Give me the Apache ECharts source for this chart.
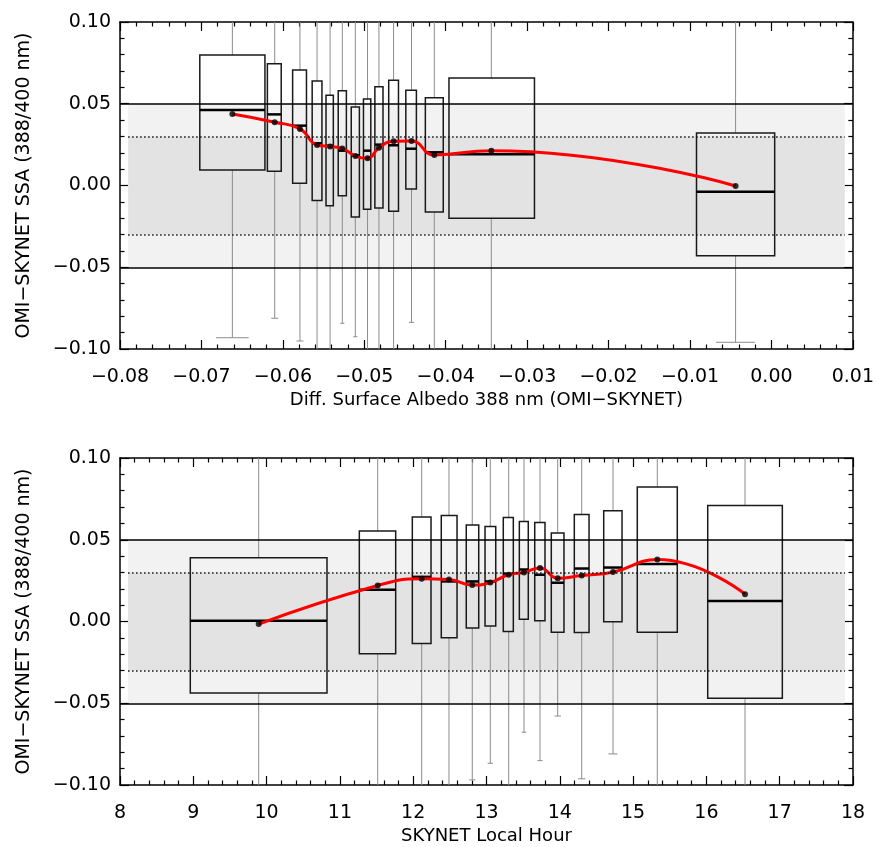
<!DOCTYPE html>
<html>
<head>
<meta charset="utf-8">
<script src="https://cdn.jsdelivr.net/npm/echarts@6/dist/echarts.min.js"></script>
<style>
    html, body { margin: 0; padding: 0; background: #fff; }
    #chart { width: 877px; height: 847px; }
</style>
</head>
<body>
<div id="chart"></div>
<script>
// top panel: binned by albedo difference
const albX       = [-0.0662, -0.0610, -0.0579, -0.0558, -0.0542, -0.0527, -0.0511, -0.0496, -0.0482, -0.0464, -0.0442, -0.0414, -0.0344, -0.0044]
const albBoxLo   = [-0.0702, -0.0619, -0.0588, -0.0564, -0.0547, -0.0532, -0.0516, -0.0501, -0.0487, -0.0470, -0.0449, -0.0425, -0.0396, -0.0092]
const albBoxHi   = [-0.0622, -0.0602, -0.0571, -0.0552, -0.0538, -0.0522, -0.0506, -0.0492, -0.0477, -0.0458, -0.0436, -0.0403, -0.0291,  0.0004]
const albWhiskLo = [-0.0931, -0.0812, -0.0951, -0.12, -0.12, -0.0843, -0.0925, -0.12, -0.12, -0.12, -0.0837, -0.12, -0.12, -0.0959]
const albQ1      = [ 0.0095,  0.0087,  0.0013, -0.0091, -0.0124, -0.0062, -0.0193, -0.0146, -0.0138, -0.0158, -0.0021, -0.0162, -0.0201, -0.0429]
const albMedian  = [ 0.0462,  0.0435,  0.0366,  0.0258,  0.0243,  0.0213,  0.0185,  0.0213,  0.0250,  0.0246,  0.0225,  0.0203,  0.0191, -0.0038]
const albQ3      = [ 0.0798,  0.0745,  0.0706,  0.0639,  0.0552,  0.0580,  0.0480,  0.0529,  0.0604,  0.0643,  0.0582,  0.0537,  0.0657,  0.0321]
const albWhiskHi = [ 0.12, 0.12, 0.12, 0.12, 0.12, 0.12, 0.12, 0.12, 0.12, 0.12, 0.12, 0.12, 0.12, 0.12]
const albMean    = [ 0.0437,  0.0387,  0.0346,  0.0248,  0.0238,  0.0227,  0.0180,  0.0166,  0.0231,  0.0270,  0.0272,  0.0187,  0.0213, -0.0003]

// bottom panel: binned by local hour
const hourX       = [9.892, 11.516, 12.116, 12.488, 12.806, 13.052, 13.303, 13.512, 13.730, 13.971, 14.299, 14.726, 15.330, 16.527]
const hourBoxLo   = [8.959, 11.265, 11.988, 12.383, 12.724, 12.980, 13.229, 13.448, 13.658, 13.884, 14.198, 14.599, 15.057, 16.018]
const hourBoxHi   = [10.824, 11.761, 12.243, 12.598, 12.894, 13.126, 13.366, 13.570, 13.798, 14.057, 14.399, 14.849, 15.603, 17.036]
const hourWhiskLo = [-0.12, -0.12, -0.12, -0.12, -0.0969, -0.0867, -0.12, -0.0677, -0.0851, -0.0578, -0.0962, -0.0810, -0.12, -0.12]
const hourQ1      = [-0.0437, -0.0198, -0.0135, -0.0100, -0.0039, -0.0027, -0.0061,  0.0014,  0.0004, -0.0065, -0.0068, -0.0002, -0.0065, -0.0469]
const hourMedian  = [ 0.0004,  0.0194,  0.0273,  0.0245,  0.0245,  0.0245,  0.0292,  0.0318,  0.0286,  0.0237,  0.0324,  0.0330,  0.0351,  0.0125]
const hourQ3      = [ 0.0390,  0.0553,  0.0639,  0.0649,  0.0590,  0.0581,  0.0636,  0.0612,  0.0606,  0.0541,  0.0655,  0.0677,  0.0822,  0.0710]
const hourWhiskHi = [ 0.12, 0.12, 0.12, 0.12, 0.12, 0.12, 0.12, 0.12, 0.12, 0.12, 0.12, 0.12, 0.12, 0.12]
const hourMean    = [-0.0016,  0.0220,  0.0261,  0.0257,  0.0223,  0.0238,  0.0286,  0.0300,  0.0327,  0.0265,  0.0281,  0.0302,  0.0379,  0.0167]

// reference bands
const outerBand = [-0.05, 0.05]
const innerBand = [-0.03, 0.03]
const albBandX  = [-0.079, 0.009]
const hourBandX = [8.11, 17.89]

const Y_MIN = -0.1
const Y_MAX = 0.1
const FONT = 'DejaVu Sans'

const minus = (s) => s.replace('-', '\u2212')

const renderBox = (params, api) => {
    const x = api.value(0)
    const lo = api.value(1)
    const hi = api.value(2)
    const wLo = api.value(3)
    const q1 = api.value(4)
    const med = api.value(5)
    const q3 = api.value(6)
    const wHi = api.value(7)

    const clampY = (v) => Math.max(Y_MIN, Math.min(Y_MAX, v))
    const pt = (xv, yv) => api.coord([xv, yv])

    const left = pt(lo, q1)[0]
    const right = pt(hi, q1)[0]
    const cx = pt(x, q1)[0]
    const yQ1 = pt(x, q1)[1]
    const yQ3 = pt(x, q3)[1]
    const yMed = pt(x, med)[1]
    const yLo = pt(x, clampY(wLo))[1]
    const yHi = pt(x, clampY(wHi))[1]
    const capHalf = (right - left) / 4

    const grey = { stroke: '#8c8c8c', lineWidth: 1 }
    const children = [
        { type: 'line', shape: { x1: cx, y1: yQ1, x2: cx, y2: yLo }, style: grey },
        { type: 'line', shape: { x1: cx, y1: yQ3, x2: cx, y2: yHi }, style: grey },
        {
            type: 'rect',
            shape: { x: left, y: yQ3, width: right - left, height: yQ1 - yQ3 },
            style: { fill: null, stroke: '#1a1a1a', lineWidth: 1.5 }
        },
        {
            type: 'line',
            shape: { x1: left, y1: yMed, x2: right, y2: yMed },
            style: { stroke: '#000', lineWidth: 2.5 }
        }
    ]
    if (wLo >= Y_MIN) {
        children.push({ type: 'line', shape: { x1: cx - capHalf, y1: yLo, x2: cx + capHalf, y2: yLo }, style: grey })
    }
    if (wHi <= Y_MAX) {
        children.push({ type: 'line', shape: { x1: cx - capHalf, y1: yHi, x2: cx + capHalf, y2: yHi }, style: grey })
    }
    return { type: 'group', children }
}

const bandSeries = (axisIdx, bandX) => {
    const dotted = { color: '#111', width: 1.5, type: [1.5, 2.5] }
    return {
        type: 'line',
        xAxisIndex: axisIdx,
        yAxisIndex: axisIdx,
        data: [],
        z: 1,
        silent: true,
        markArea: {
            silent: true,
            data: [
                [{ xAxis: bandX[0], yAxis: outerBand[0], itemStyle: { color: '#f2f2f2' } }, { xAxis: bandX[1], yAxis: outerBand[1] }],
                [{ xAxis: bandX[0], yAxis: innerBand[0], itemStyle: { color: '#e3e3e3' } }, { xAxis: bandX[1], yAxis: innerBand[1] }]
            ]
        },
        markLine: {
            silent: true,
            symbol: 'none',
            label: { show: false },
            data: [
                { yAxis: outerBand[1], lineStyle: { color: '#000', width: 1.5, type: 'solid' } },
                { yAxis: outerBand[0], lineStyle: { color: '#000', width: 1.5, type: 'solid' } },
                [{ coord: [bandX[0], innerBand[1]], lineStyle: dotted }, { coord: [bandX[1], innerBand[1]] }],
                [{ coord: [bandX[0], innerBand[0]], lineStyle: dotted }, { coord: [bandX[1], innerBand[0]] }]
            ]
        }
    }
}

const boxSeries = (axisIdx, xs, lo, hi, wLo, q1, med, q3, wHi) => {
    return {
        type: 'custom',
        xAxisIndex: axisIdx,
        yAxisIndex: axisIdx,
        z: 2,
        silent: true,
        renderItem: renderBox,
        encode: { x: [0, 1, 2], y: [3, 7] },
        data: xs.map((x, i) => [x, lo[i], hi[i], wLo[i], q1[i], med[i], q3[i], wHi[i]])
    }
}

const meanSeries = (axisIdx, xs, means) => {
    const pts = xs.map((x, i) => [x, means[i]])
    return [
        {
            type: 'line',
            xAxisIndex: axisIdx,
            yAxisIndex: axisIdx,
            z: 3,
            data: pts,
            smooth: 0.5,
            showSymbol: false,
            lineStyle: { color: '#ff0000', width: 3 }
        },
        {
            type: 'scatter',
            xAxisIndex: axisIdx,
            yAxisIndex: axisIdx,
            z: 4,
            data: pts,
            symbol: 'circle',
            symbolSize: 6,
            itemStyle: { color: '#000' }
        }
    ]
}

const axisLine = { show: true, onZero: false, lineStyle: { color: '#000', width: 1.5 } }
const axisTick = { show: true, inside: true, length: 9, lineStyle: { color: '#000', width: 1.2 } }
const minorTick = { show: true, splitNumber: 5, length: 4.5, lineStyle: { color: '#000', width: 1.2 } }

const xAxisPair = (grid, min, max, interval, formatter, name) => {
    return [
        {
            type: 'value', gridIndex: grid, position: 'bottom', min, max, interval,
            axisLine, axisTick, minorTick,
            splitLine: { show: false },
            axisLabel: { color: '#000', fontFamily: FONT, fontSize: 19, margin: 19, formatter },
            name, nameLocation: 'middle', nameGap: 42,
            nameTextStyle: { color: '#000', fontFamily: FONT, fontSize: 18 }
        },
        {
            type: 'value', gridIndex: grid, position: 'top', min, max, interval,
            axisLine, axisTick, minorTick,
            splitLine: { show: false },
            axisLabel: { show: false }
        }
    ]
}

const yAxisPair = (grid) => {
    return [
        {
            type: 'value', gridIndex: grid, position: 'left', min: Y_MIN, max: Y_MAX, interval: 0.05,
            axisLine, axisTick, minorTick,
            splitLine: { show: false },
            axisLabel: { color: '#000', fontFamily: FONT, fontSize: 19, margin: 9, formatter: v => minus(v.toFixed(2)) },
            name: 'OMI\u2212SKYNET SSA (388/400 nm)', nameLocation: 'middle', nameGap: 86,
            nameTextStyle: { color: '#000', fontFamily: FONT, fontSize: 19 }
        },
        {
            type: 'value', gridIndex: grid, position: 'right', min: Y_MIN, max: Y_MAX, interval: 0.05,
            axisLine, axisTick, minorTick,
            splitLine: { show: false },
            axisLabel: { show: false }
        }
    ]
}

const chart = echarts.init(document.getElementById('chart'), null, { renderer: 'canvas' })

const topX = xAxisPair(0, -0.08, 0.01, 0.01, v => minus(v.toFixed(2)), 'Diff. Surface Albedo 388 nm (OMI\u2212SKYNET)')
const bottomX = xAxisPair(1, 8, 18, 1, v => String(Math.round(v)), 'SKYNET Local Hour')
const topY = yAxisPair(0)
const bottomY = yAxisPair(1)

chart.setOption({
    animation: false,
    backgroundColor: '#fff',
    grid: [
        { left: 120, right: 24, top: 22, height: 327 },
        { left: 120, right: 24, top: 458, height: 327 }
    ],
    // index order: 0 top-bottom, 1 top-top, 2 bottom-bottom, 3 bottom-top
    xAxis: [topX[0], topX[1], bottomX[0], bottomX[1]],
    yAxis: [topY[0], topY[1], bottomY[0], bottomY[1]],
    series: [
        bandSeries(0, albBandX),
        boxSeries(0, albX, albBoxLo, albBoxHi, albWhiskLo, albQ1, albMedian, albQ3, albWhiskHi),
        ...meanSeries(0, albX, albMean),
        bandSeries(2, hourBandX),
        boxSeries(2, hourX, hourBoxLo, hourBoxHi, hourWhiskLo, hourQ1, hourMedian, hourQ3, hourWhiskHi),
        ...meanSeries(2, hourX, hourMean)
    ]
})
</script>
</body>
</html>
